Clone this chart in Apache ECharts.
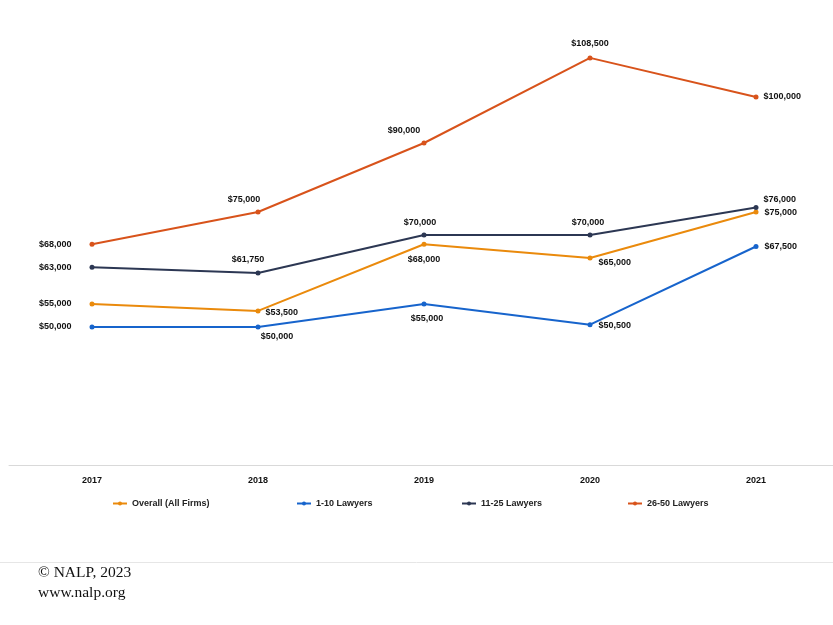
<!DOCTYPE html>
<html>
<head>
<meta charset="utf-8">
<script src="https://cdn.jsdelivr.net/npm/echarts@6/dist/echarts.min.js"></script>
<style>html,body{margin:0;padding:0;background:#fff;}#c{width:833px;height:625px;}</style>
</head>
<body>
<div id="c"></div>
<script>
const years = ['2017', '2018', '2019', '2020', '2021'];
const seriesNames = ['Overall (All Firms)', '1-10 Lawyers', '11-25 Lawyers', '26-50 Lawyers'];
const overall = [55000, 53500, 68000, 65000, 75000];
const small = [50000, 50000, 55000, 50500, 67500];
const mid = [63000, 61750, 70000, 70000, 76000];
const large = [68000, 75000, 90000, 108500, 100000];
const colors = ['#EA8A0C', '#1764CC', '#2C3753', '#D8531B'];

const labelPos = [
  [['left', 0, 0], ['right', -1, 2], ['bottom', 0, 1], ['right', 0, 5], ['right', 0, 1]],
  [['left', 0, 0], ['bottom', 19, -4], ['bottom', 3, 1], ['right', 0, 1], ['right', 0, 0]],
  [['left', 0, 0], ['top', -10, 1], ['top', -4, 2], ['top', -2, 2], ['right', -1, -8]],
  [['left', 0, 0], ['top', -14, 2], ['top', -20, 2], ['top', 0, 0], ['right', -1, 0]]
];
const dataSets = [overall, small, mid, large];

function fmt(v) { return '$' + v.toLocaleString('en-US'); }

const series = dataSets.map((d, i) => ({
  name: seriesNames[i],
  type: 'line',
  data: d.map((v, j) => ({
    value: v,
    label: {
      show: true,
      position: labelPos[i][j][0],
      offset: [labelPos[i][j][1], labelPos[i][j][2]],
      distance: labelPos[i][j][0] === 'left' ? 18 : (labelPos[i][j][0] === 'right' ? 6 : 7)
    }
  })),
  symbol: 'circle',
  symbolSize: 5,
  lineStyle: { width: 2, color: colors[i] },
  itemStyle: { color: colors[i] },
  label: {
    formatter: p => fmt(p.value),
    fontFamily: 'Liberation Sans',
    fontWeight: 'bold',
    fontSize: 9,
    color: '#111'
  },
  emphasis: { disabled: true },
  animation: false
}));

const legendLefts = [107, 291, 456, 622];
const legends = seriesNames.map((n, i) => ({
  data: [n],
  left: legendLefts[i],
  top: 494,
  itemWidth: 14,
  itemHeight: 5,
  itemGap: 3,
  textStyle: { fontFamily: 'Liberation Sans', fontWeight: 'bold', fontSize: 9, color: '#222' },
  selectedMode: false
}));

const chart = echarts.init(document.getElementById('c'), null, { renderer: 'canvas' });
chart.setOption({
  backgroundColor: '#fff',
  animation: false,
  grid: [
    { left: 92, top: 5, right: 77, bottom: 160, containLabel: false },
    { left: 9, top: 5, right: 0, bottom: 160, containLabel: false }
  ],
  xAxis: [
    {
      type: 'category',
      gridIndex: 0,
      data: years,
      boundaryGap: false,
      axisLine: { show: false },
      axisTick: { show: false },
      splitLine: { show: false },
      axisLabel: { fontFamily: 'Liberation Sans', fontWeight: 'bold', fontSize: 9, color: '#111', margin: 11 }
    },
    {
      type: 'category',
      gridIndex: 1,
      data: years,
      boundaryGap: true,
      axisLine: { show: true, lineStyle: { color: '#d9d9d9', width: 1 } },
      axisTick: { show: false },
      axisLabel: { show: false },
      splitLine: { show: false }
    }
  ],
  yAxis: [
    { type: 'value', gridIndex: 0, min: 20000, max: 120000, interval: 20000, show: false, splitLine: { show: false } },
    { type: 'value', gridIndex: 1, min: 20000, max: 120000, interval: 20000, show: false, splitLine: { show: false } }
  ],
  legend: legends,
  series: series,
  graphic: [
    { type: 'line', shape: { x1: 0, y1: 562.5, x2: 833, y2: 562.5 }, style: { stroke: '#e6e6e6', lineWidth: 1 } },
    { type: 'text', left: 38, top: 565, style: { text: '© NALP, 2023', font: '15.5px "Liberation Serif"', fill: '#111' } },
    { type: 'text', left: 38, top: 585, style: { text: 'www.nalp.org', font: '15.5px "Liberation Serif"', fill: '#111' } }
  ]
});
</script>
</body>
</html>
